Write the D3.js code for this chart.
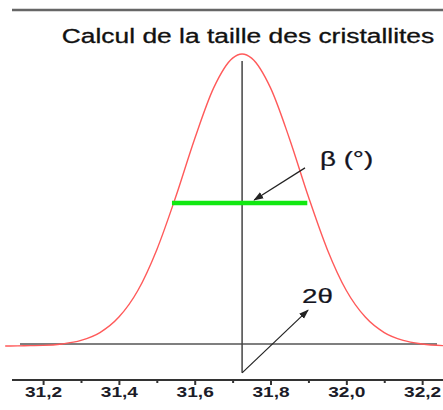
<!DOCTYPE html>
<html>
<head>
<meta charset="utf-8">
<script src="https://cdn.jsdelivr.net/npm/d3@7"></script>
<style>
  html, body { margin: 0; padding: 0; background: #fff; }
  svg { display: block; }
  text { font-family: "Liberation Sans", Arial, sans-serif; }
</style>
</head>
<body>
<svg id="chart" width="443" height="410"></svg>
<script>
// Diffraction peak profile: 2θ (degrees) and relative intensity
const twoTheta = [31.10, 31.15, 31.20, 31.25, 31.30, 31.35, 31.40, 31.45, 31.50, 31.55,
                  31.60, 31.65, 31.70, 31.725, 31.75, 31.80, 31.85, 31.90, 31.95, 32.00,
                  32.05, 32.10, 32.15, 32.20, 32.26];
const intensity = [0.0, 0.1, 0.2, 0.7, 1.9, 4.6, 9.9, 19.0, 33.0, 51.1,
                   71.0, 88.4, 98.6, 100.0, 98.6, 88.4, 71.0, 51.1, 33.0, 19.0,
                   9.9, 4.6, 1.9, 0.7, 0.1];

// Axis ticks
const majorTicks = [31.2, 31.4, 31.6, 31.8, 32.0, 32.2];
const minorTicks = [31.3, 31.5, 31.7, 31.9, 32.1];

// Annotation values
const peakCenter = 31.725;
const halfLevel = 49;
const fwhmRange = [31.540, 31.897];
const baselineLevel = 0.7;

const svg = d3.select("#chart");
const stretch = 1.32;

const x = d3.scaleLinear().domain([31.118, 32.255]).range([12, 443]);
const y = d3.scaleLinear().domain([0, 100]).range([346, 54]);

// Top frame line
svg.append("line")
  .attr("x1", x.range()[0]).attr("x2", x.range()[1])
  .attr("y1", 10).attr("y2", 10)
  .attr("stroke", "#666").attr("stroke-width", 2.5);

// Bottom axis with major and minor ticks
const axisY = 380;
const minorAxis = d3.axisBottom(x).tickValues(minorTicks).tickSize(3).tickSizeOuter(0).tickFormat("");
const gMinor = svg.append("g").attr("transform", `translate(0,${axisY})`).call(minorAxis);
gMinor.select(".domain").remove();
gMinor.selectAll(".tick line").attr("stroke", "#333").attr("stroke-width", 2);

const majorAxis = d3.axisBottom(x).tickValues(majorTicks).tickSize(5).tickSizeOuter(0).tickPadding(2)
  .tickFormat(d => d3.format(".1f")(d).replace(".", ","));
const gMajor = svg.append("g").attr("transform", `translate(0,${axisY})`).call(majorAxis);
gMajor.select(".domain").attr("stroke", "#333").attr("stroke-width", 2)
  .attr("d", `M${x.range()[0]},0H${x.range()[1]}`);
gMajor.selectAll(".tick line").attr("stroke", "#333").attr("stroke-width", 2);
gMajor.selectAll(".tick text")
  .attr("font-size", 14.5).attr("font-weight", "bold").attr("fill", "#1c1c28")
  .attr("font-family", "Liberation Sans, Arial, sans-serif")
  .attr("transform", `scale(${stretch},1)`);

// Baseline
svg.append("line")
  .attr("x1", 20).attr("x2", 437)
  .attr("y1", y(baselineLevel)).attr("y2", y(baselineLevel))
  .attr("stroke", "#555").attr("stroke-width", 1.4);

// Peak profile
const line = d3.line().x(d => x(d[0])).y(d => y(d[1])).curve(d3.curveMonotoneX);
const pts = twoTheta.map((t, i) => [t, intensity[i]]);
pts.unshift([31.118, 0]);
svg.append("path")
  .datum(pts)
  .attr("d", line)
  .attr("fill", "none")
  .attr("stroke", "#ff5a5a")
  .attr("stroke-width", 1.4);

// Peak position marker
svg.append("line")
  .attr("x1", x(peakCenter)).attr("x2", x(peakCenter))
  .attr("y1", y(97.6)).attr("y2", y(-9.2))
  .attr("stroke", "#444").attr("stroke-width", 1.5);

// Full width at half maximum
svg.append("line")
  .attr("x1", x(fwhmRange[0])).attr("x2", x(fwhmRange[1]))
  .attr("y1", y(halfLevel)).attr("y2", y(halfLevel))
  .attr("stroke", "#11e811").attr("stroke-width", 4.5);

// Arrow marker
svg.append("defs").append("marker")
  .attr("id", "arrow")
  .attr("viewBox", "0 0 10 10")
  .attr("refX", 9).attr("refY", 5)
  .attr("markerWidth", 10).attr("markerHeight", 10)
  .attr("markerUnits", "userSpaceOnUse")
  .attr("orient", "auto")
  .append("path")
  .attr("d", "M0,1.5L10,5L0,8.5Z")
  .attr("fill", "#222");

// β arrow
svg.append("line")
  .attr("x1", x(31.891)).attr("y1", y(61))
  .attr("x2", x(31.757)).attr("y2", y(50))
  .attr("stroke", "#222").attr("stroke-width", 1.2)
  .attr("marker-end", "url(#arrow)");

// 2θ arrow
svg.append("line")
  .attr("x1", x(peakCenter)).attr("y1", y(-9.2))
  .attr("x2", x(31.899)).attr("y2", y(12.3))
  .attr("stroke", "#222").attr("stroke-width", 1.2)
  .attr("marker-end", "url(#arrow)");

// Labels
function label(px, py, txt, size, anchor) {
  svg.append("text")
    .attr("transform", `translate(${px},${py}) scale(${stretch},1)`)
    .attr("text-anchor", anchor)
    .attr("dominant-baseline", "middle")
    .attr("font-size", size)
    .attr("fill", "#14141e")
    .attr("stroke", "#14141e").attr("stroke-width", 0.25)
    .text(txt);
}
label(320, 160, "β (°)", 21, "start");
label(302, 297, "2θ", 21, "start");

svg.append("text")
  .attr("transform", `translate(248,43) scale(${stretch},1)`)
  .attr("text-anchor", "middle")
  .attr("font-size", 20)
  .attr("fill", "#111")
  .attr("stroke", "#111").attr("stroke-width", 0.3)
  .text("Calcul de la taille des cristallites");
</script>
</body>
</html>
